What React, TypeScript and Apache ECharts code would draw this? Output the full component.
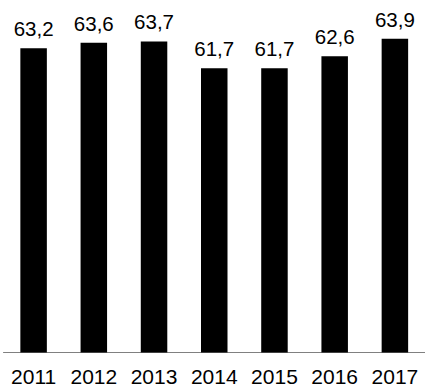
import React, { useEffect, useRef } from "react";
import * as echarts from "echarts";

const years = ["2011", "2012", "2013", "2014", "2015", "2016", "2017"];
const values = [63.2, 63.6, 63.7, 61.7, 61.7, 62.6, 63.9];

export default function App() {
  const ref = useRef<HTMLDivElement>(null);
  useEffect(() => {
    if (!ref.current) return;
    const chart = echarts.init(ref.current, null, { renderer: "svg" });
    chart.setOption({
      animation: false,
      backgroundColor: "#ffffff",
      grid: { left: 3.5, width: 426.3, top: 24, height: 328.5 },
      xAxis: {
        type: "category",
        data: years,
        axisLine: { show: true, lineStyle: { color: "#808080", width: 1 } },
        axisTick: { show: false },
        axisLabel: {
          interval: 0,
          hideOverlap: false,
          color: "#000000",
          fontSize: 21,
          fontFamily: "Arial, 'Liberation Sans', sans-serif",
          margin: 13,
        },
      },
      yAxis: {
        type: "value",
        min: 40.5,
        max: 65,
        show: false,
        splitLine: { show: false },
      },
      series: [
        {
          type: "bar",
          data: values,
          barWidth: 26.5,
          itemStyle: { color: "#000000" },
          label: {
            show: true,
            position: "top",
            distance: 9,
            color: "#000000",
            fontSize: 20.5,
            fontFamily: "Arial, 'Liberation Sans', sans-serif",
            formatter: (p: any) => String(p.value.toFixed(1)).replace(".", ","),
          },
        },
      ],
    });
    return () => chart.dispose();
  }, []);
  return (
    <div
      ref={ref}
      style={{ position: "absolute", left: 0, top: 0, width: 425, height: 387 }}
    />
  );
}
